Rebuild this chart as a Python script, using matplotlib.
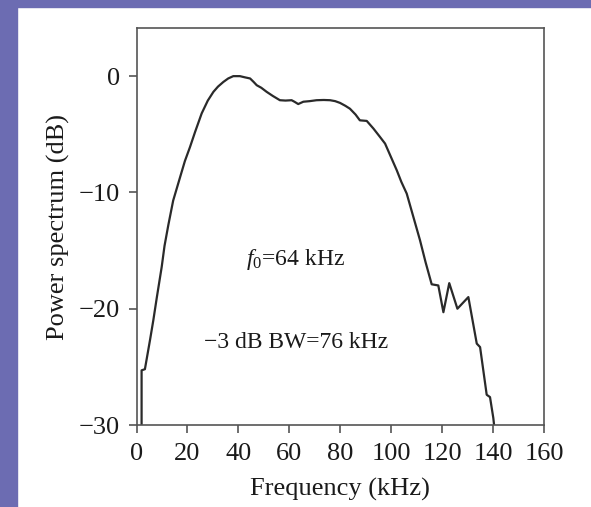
import matplotlib
matplotlib.use("Agg")
import matplotlib.pyplot as plt
from matplotlib.patches import Rectangle

plt.rcParams['font.family'] = ['Liberation Serif', 'DejaVu Serif']
plt.rcParams['mathtext.fontset'] = 'custom'
plt.rcParams['mathtext.rm'] = 'Liberation Serif'
plt.rcParams['mathtext.it'] = 'Liberation Serif:italic'

freq_khz = [2.0, 2.0, 3.3, 5.3, 6.6, 8.0, 9.9, 11.0, 12.5, 14.4, 17.1, 19.0, 21.0, 23.0,
            25.6, 28.0, 30.2, 32.0, 34.1, 36.0, 38.0, 40.6, 42.5, 44.6, 46.0, 47.2, 49.0,
            51.1, 53.5, 56.3, 58.5, 60.9, 62.0, 63.5, 65.5, 68.0, 70.7, 73.5, 76.0, 78.0,
            79.9, 82.0, 83.8, 86.0, 87.7, 90.4, 93.0, 95.5, 97.6, 100.0, 102.2, 104.0,
            106.1, 108.7, 111.3, 113.5, 115.9, 118.5, 120.5, 122.8, 126.0, 130.3, 133.6,
            134.9, 137.5, 138.8, 140.1, 140.4]
power_db = [-30.0, -25.3, -25.2, -22.7, -21.0, -19.0, -16.4, -14.6, -12.8, -10.7, -8.7, -7.3, -6.1, -4.8,
            -3.2, -2.1, -1.35, -0.9, -0.5, -0.2, 0.0, 0.0, -0.1, -0.2, -0.5, -0.78, -1.0,
            -1.35, -1.7, -2.07, -2.1, -2.07, -2.2, -2.4, -2.2, -2.15, -2.07, -2.05, -2.07, -2.15,
            -2.3, -2.55, -2.8, -3.3, -3.8, -3.85, -4.5, -5.2, -5.8, -7.0, -8.1, -9.1,
            -10.1, -12.1, -14.1, -16.0, -17.9, -18.0, -20.3, -17.8, -20.0, -19.0, -23.0,
            -23.3, -27.4, -27.6, -29.4, -30.0]
x_ticks = [0, 20, 40, 60, 80, 100, 120, 140, 160]
y_ticks = [0, -10, -20, -30]
y_tick_labels = ['0', '\u221210', '\u221220', '\u221230']

fig = plt.figure(figsize=(5.91, 5.07), dpi=100)
fig.patch.set_facecolor('white')
purple = '#6c6cb2'
fig.patches.append(Rectangle((0, 0), 17/591, 1, transform=fig.transFigure, color=purple, zorder=-5))
fig.patches.append(Rectangle((0, 1 - 7/507), 1, 7/507, transform=fig.transFigure, color=purple, zorder=-5))

ax = fig.add_axes([136.5/591, 1 - 425/507, (544 - 136.5)/591, (425 - 28)/507])
ax.plot(freq_khz, power_db, color='#2a2a2a', lw=1.6, clip_on=True)
ax.set_xlim(0, 160)
ax.set_ylim(-30, 4.14)
ax.set_xticks(x_ticks)
ax.set_yticks(y_ticks)
ax.set_yticklabels(y_tick_labels)
for s in ax.spines.values():
    s.set_color('#555555')
    s.set_linewidth(1.2)
ax.tick_params(direction='out', length=6, width=1.2, color='#555555',
               labelsize=19, labelcolor='#1a1a1a')
ax.tick_params(axis='x', pad=7)
ax.tick_params(axis='y', pad=6)
ax.set_xlabel('Frequency (kHz)', fontsize=19, labelpad=9, color='#1a1a1a')
ax.set_ylabel('Power spectrum (dB)', fontsize=19, labelpad=6, color='#1a1a1a')

ax.text(0.39, 0.416, r'$f_0$=64 kHz', transform=ax.transAxes, fontsize=17,
        ha='center', va='center', color='#1a1a1a')
ax.text(0.392, 0.207, '\u22123 dB BW=76 kHz', transform=ax.transAxes, fontsize=17,
        ha='center', va='center', color='#1a1a1a')

fig.savefig('out.png', dpi=100)
